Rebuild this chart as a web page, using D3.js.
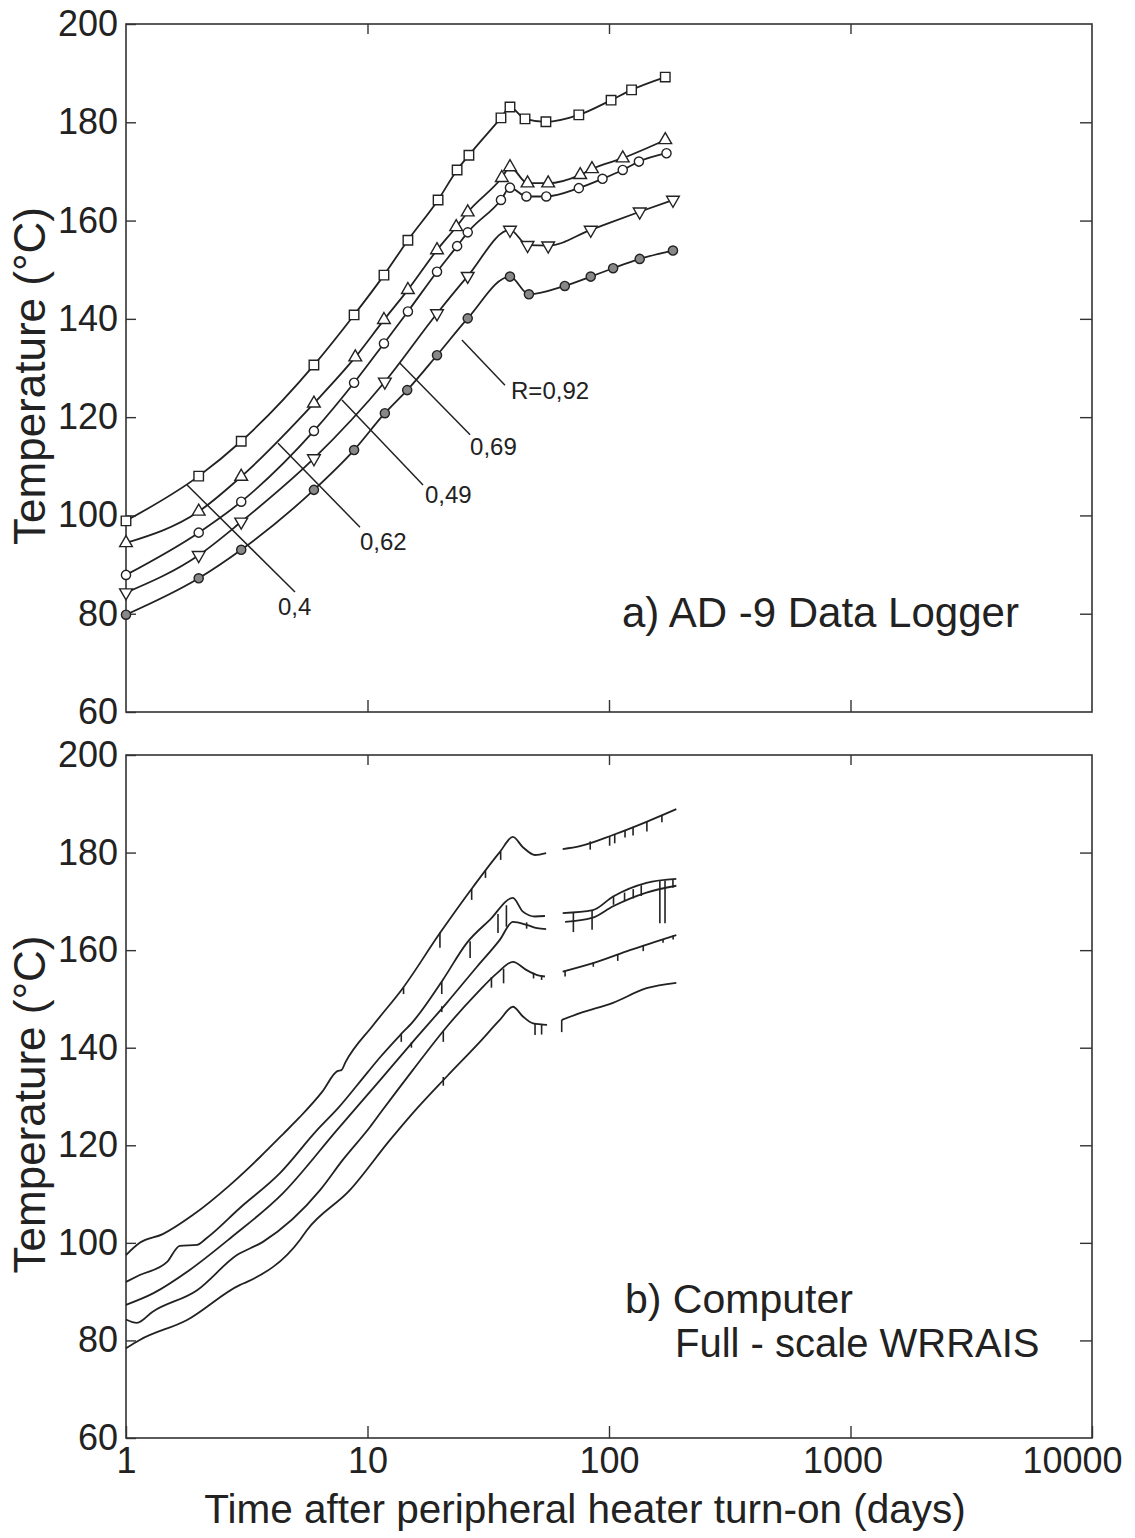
<!DOCTYPE html>
<html>
<head>
<meta charset="utf-8">
<script src="https://cdn.jsdelivr.net/npm/d3@7"></script>
<style>
  body { margin: 0; background: #fff; }
  svg { display: block; font-family: "Liberation Sans", Arial, sans-serif; }
</style>
</head>
<body>
<svg id="chart" width="1135" height="1538"></svg>
<script>
const xTicks = [1, 10, 100, 1000, 10000];
const yTicks = [60, 80, 100, 120, 140, 160, 180, 200];

// a) AD-9 data logger: [days, °C] per radius ratio R
const loggerR040 = [[1,98.9],[2,108],[3,115.1],[6,130.6],[8.8,140.8],[11.7,148.9],[14.7,156],[19.6,164.2],[23.5,170.3],[26.3,173.3],[35.7,180.9],[38.9,183.1],[44.9,180.7],[54.8,180.1],[75,181.5],[102,184.5],[124,186.6],[171,189.2]];
const loggerR062 = [[1,94.4],[2,100.8],[3,107.9],[6,122.8],[8.9,132.2],[11.7,139.8],[14.7,145.9],[19.4,154],[23.3,158.7],[26,161.7],[36,168.7],[38.9,170.9],[46,167.6],[56,167.6],[76,169.3],[85,170.5],[114,172.7],[171,176.4]];
const loggerR049 = [[1,87.9],[2,96.5],[3,102.8],[6,117.2],[8.8,127],[11.7,135],[14.7,141.5],[19.4,149.6],[23.5,154.8],[26,157.6],[35.7,164.2],[38.9,166.7],[45.5,164.9],[55,164.9],[75,166.6],[94,168.5],[114,170.3],[133,172],[173,173.7]];
const loggerR069 = [[1,84.3],[2,91.9],[3,98.7],[6,111.6],[11.8,127.2],[19.4,141.1],[26,148.7],[38.9,158.1],[46,155],[56,154.9],[84,158.1],[134,161.8],[184,164.2]];
const loggerR092 = [[1,79.8],[2,87.2],[3,93],[6,105.2],[8.8,113.3],[11.8,120.8],[14.6,125.5],[19.4,132.6],[26,140.1],[38.9,148.6],[46.6,145],[65.6,146.7],[84,148.6],[104,150.3],[134,152.2],[184,153.9]];

// leader labels of panel a: text, line start, line end, text position (all [days, °C])
const loggerLabels = [
  { text: "0,4",    from: [1.79,106.2], to: [5.01,84.4],  at: [4.26,79.7] },
  { text: "0,62",   from: [4.26,114.7], to: [9.31,97.6],  at: [9.31,93.0] },
  { text: "0,49",   from: [7.84,123.5], to: [16.98,106.2], at: [17.3,102.5] },
  { text: "0,69",   from: [13.6,131.0], to: [26.6,116.4], at: [26.6,112.3] },
  { text: "R=0,92", from: [24.6,135.7], to: [37.1,126.5], at: [39.3,123.7] }
];

// b) computer record: two pieces either side of the gap, plus dropout spikes [days, top, bottom]
const computerR040Early = [[1,97.5],[1.14,100],[1.42,101.8],[1.89,105.7],[2.7,111.9],[3.59,117.6],[4.47,122.3],[5.25,125.8],[6.5,131],[7.5,135.2],[7.8,135.4],[8.1,137],[10.55,144.6],[14,152.2],[19.95,163.5],[27.3,172.9],[35.3,180.1],[40,183.2],[44,181.1],[49.4,179.5],[54.9,179.9]];
const computerR040Late = [[64.3,180.7],[75.8,181.3],[103.8,183.6],[143,186.3],[190,188.9]];
const computerR040Spikes = [[14.1,152.3,151],[19.95,163.6,160.5],[27,172.6,170.3],[30.8,176.3,174.8],[35.6,180.2,178.5],[83.6,182.3,180.6],[100.6,183.4,181.4],[105.6,183.7,181.9],[116.5,184.6,183.1],[125.8,185.3,183.5],[143.5,186.3,184.3],[165.6,187.6,186.2]];

const computerR062Early = [[1,92],[1.14,93.4],[1.48,96.1],[1.67,99.4],[1.97,99.6],[2.16,101],[2.97,107.2],[4.34,114.3],[6.18,123.1],[7.55,127.6],[9.95,134.8],[11.3,138.1],[13.6,142.5],[15.4,145.3],[20.5,153.9],[25.8,161.5],[32.1,166.2],[40,170.7],[44,167.9],[49.4,166.9],[54.3,167]];
const computerR062Late = [[64.3,167.6],[85.7,168.2],[104,171],[143,173.8],[190,174.6]];
const computerR062Spikes = [[13.8,142.8,141.2],[20.3,153.6,151],[26.6,161.8,158.4],[34.7,167.4,163.5],[37.6,169.2,164.8],[71.2,167.8,163.7],[85.1,168.2,164.2],[104.4,171,169.3],[116,171.8,170],[126,172.5,170.6],[136,173.3,171.1],[162.4,174.2,165.5],[170.6,174.3,165.5],[184,174.5,172.8]];

const computerR049Early = [[1,87.3],[1.3,89.7],[1.83,94.4],[2.74,101.2],[4.47,110.2],[7.47,123.1],[11.3,133.4],[15.4,141.2],[21.3,149.2],[28.4,156.6],[35.3,162.1],[40,165.8],[45.6,165.2],[50.4,164.5],[54.9,164.3]];
const computerR049Late = [[65.8,165.8],[85,166.6],[104,169],[143,171.8],[190,173.2]];
const computerR049Spikes = [[15.2,141.1,140],[20.3,148.5,147.3],[45.6,165.7,164.4]];

const computerR069Early = [[1,84.3],[1.11,83.6],[1.29,85.9],[1.97,90.3],[2.88,97.5],[3.69,100.2],[6.36,110.8],[7.9,117],[10.26,123.8],[11.3,126.6],[15.4,135.4],[21.3,144.3],[28.4,151.2],[34.4,155.3],[40,157.6],[45.6,155.9],[50.4,154.9],[54.3,154.6]];
const computerR069Late = [[64.3,155.6],[89.2,157.6],[122,160],[190,163.1]];
const computerR069Spikes = [[20.6,143.4,141.2],[32.6,154.5,152.3],[36.6,156.2,153.2],[48.7,155.2,154.2],[52.6,154.8,153.9],[65.8,155.8,154.6],[86.1,157.5,156.6],[108.7,159,157.8],[138.6,160.9,159.8],[167.4,162.3,161.5],[184.3,163,162.2]];

const computerR092Early = [[1,78.4],[1.14,80.1],[1.79,84.2],[2.97,91.4],[3.17,92],[5.25,100.6],[5.61,102.6],[8.45,110.8],[12.4,121.1],[15.4,126.6],[21.3,134.1],[29.2,141.2],[35.3,145.7],[40,148.4],[44,146.4],[48.5,145],[55.4,144.7]];
const computerR092Late = [[63.7,145.7],[75.8,147.1],[103.8,149.2],[143,152.2],[190,153.3]];
const computerR092Spikes = [[20.6,134,132.2],[49.4,145,142.6],[52.6,144.9,142.7],[63.7,145.7,143.2]];

const ink = "#222";
const svg = d3.select("#chart");

const x = d3.scaleLog().domain([1, 10000]).range([126, 1092]);
const yA = d3.scaleLinear().domain([60, 200]).range([712, 24]);
const yB = d3.scaleLinear().domain([60, 200]).range([1438, 755]);

function tidy(sel) {
  sel.select(".domain").remove();
  sel.attr("font-family", null).attr("font-size", null);
  sel.selectAll(".tick line").attr("stroke-width", 1.4);
  sel.selectAll(".tick text").attr("font-size", 36).attr("fill", ink);
}

function drawFrame(y, withLabels) {
  const g = svg.append("g").attr("color", "#333");

  g.append("g").attr("transform", `translate(${x(1)},0)`)
    .call(d3.axisLeft(y).tickValues(yTicks).tickSize(-10).tickPadding(8).tickFormat(d3.format("d")))
    .call(tidy);

  g.append("g").attr("transform", `translate(${x(10000)},0)`)
    .call(d3.axisRight(y).tickValues(yTicks.slice(1, -1)).tickSize(-12).tickFormat(""))
    .call(tidy);

  g.append("g").attr("transform", `translate(0,${y(200)})`)
    .call(d3.axisTop(x).tickValues([10, 100, 1000]).tickSize(-10).tickFormat(""))
    .call(tidy);

  const bottom = g.append("g").attr("transform", `translate(0,${y(60)})`)
    .call(d3.axisBottom(x).tickValues(withLabels ? xTicks : [10, 100, 1000])
      .tickSize(-12).tickPadding(9).tickFormat(withLabels ? d3.format("d") : ""))
    .call(tidy);
  bottom.selectAll(".tick text").attr("dx", d => d === 10000 ? -20 : d === 1000 ? -8 : 0);

  g.append("rect")
    .attr("x", x(1)).attr("y", y(200))
    .attr("width", x(10000) - x(1)).attr("height", y(60) - y(200))
    .attr("fill", "none").attr("stroke", "#333").attr("stroke-width", 1.6);

  svg.append("text")
    .attr("transform", `translate(45,${(y(60) + y(200)) / 2 + 8}) rotate(-90)`)
    .attr("text-anchor", "middle")
    .attr("font-size", 44)
    .attr("fill", ink)
    .text("Temperature (°C)");
}

drawFrame(yA, false);
drawFrame(yB, true);

// panel a: smooth curves through the logger readings
const loggerSeries = [
  { data: loggerR040, shape: "square" },
  { data: loggerR062, shape: "up" },
  { data: loggerR049, shape: "circle" },
  { data: loggerR069, shape: "down" },
  { data: loggerR092, shape: "dot" }
];

const curveA = d3.line().x(d => x(d[0])).y(d => yA(d[1])).curve(d3.curveMonotoneX);

loggerSeries.forEach(s => {
  svg.append("path")
    .datum(s.data)
    .attr("fill", "none")
    .attr("stroke", ink)
    .attr("stroke-width", 1.8)
    .attr("d", curveA);
});

loggerSeries.forEach(s => {
  const tri = s.shape === "up" || s.shape === "down";
  const type = s.shape === "square" ? d3.symbolSquare : tri ? d3.symbolTriangle : d3.symbolCircle;
  const size = s.shape === "square" ? 90 : tri ? 70 : 66;
  const sym = d3.symbol().type(type).size(size);
  svg.append("g")
    .selectAll("path")
    .data(s.data)
    .join("path")
    .attr("transform", d => `translate(${x(d[0])},${yA(d[1])})${s.shape === "down" ? " rotate(180)" : ""}`)
    .attr("d", sym)
    .attr("fill", s.shape === "dot" ? "#888" : "#fff")
    .attr("stroke", ink)
    .attr("stroke-width", 1.4);
});

loggerLabels.forEach(l => {
  svg.append("line")
    .attr("x1", x(l.from[0])).attr("y1", yA(l.from[1]))
    .attr("x2", x(l.to[0])).attr("y2", yA(l.to[1]))
    .attr("stroke", ink).attr("stroke-width", 1.5);
  svg.append("text")
    .attr("x", x(l.at[0])).attr("y", yA(l.at[1]))
    .attr("font-size", 24)
    .attr("fill", ink)
    .text(l.text);
});

svg.append("text")
  .attr("x", 622).attr("y", 627)
  .attr("font-size", 42).attr("fill", ink)
  .text("a) AD -9 Data Logger");

// panel b: computer traces
const computerSeries = [
  { early: computerR040Early, late: computerR040Late, spikes: computerR040Spikes },
  { early: computerR062Early, late: computerR062Late, spikes: computerR062Spikes },
  { early: computerR049Early, late: computerR049Late, spikes: computerR049Spikes },
  { early: computerR069Early, late: computerR069Late, spikes: computerR069Spikes },
  { early: computerR092Early, late: computerR092Late, spikes: computerR092Spikes }
];

const curveB = d3.line().x(d => x(d[0])).y(d => yB(d[1])).curve(d3.curveMonotoneX);

computerSeries.forEach(s => {
  [s.early, s.late].forEach(piece => {
    svg.append("path")
      .datum(piece)
      .attr("fill", "none")
      .attr("stroke", ink)
      .attr("stroke-width", 1.8)
      .attr("d", curveB);
  });
  svg.append("g")
    .selectAll("line")
    .data(s.spikes)
    .join("line")
    .attr("x1", d => x(d[0])).attr("x2", d => x(d[0]))
    .attr("y1", d => yB(d[1])).attr("y2", d => yB(d[2]))
    .attr("stroke", ink).attr("stroke-width", 1.6);
});

svg.append("text")
  .attr("x", 625).attr("y", 1313)
  .attr("font-size", 41).attr("fill", ink)
  .text("b) Computer");
svg.append("text")
  .attr("x", 675).attr("y", 1357)
  .attr("font-size", 40).attr("fill", ink)
  .text("Full - scale WRRAIS");

svg.append("text")
  .attr("x", 585).attr("y", 1523)
  .attr("text-anchor", "middle")
  .attr("font-size", 40.5).attr("fill", ink)
  .text("Time after peripheral heater turn-on (days)");
</script>
</body>
</html>
